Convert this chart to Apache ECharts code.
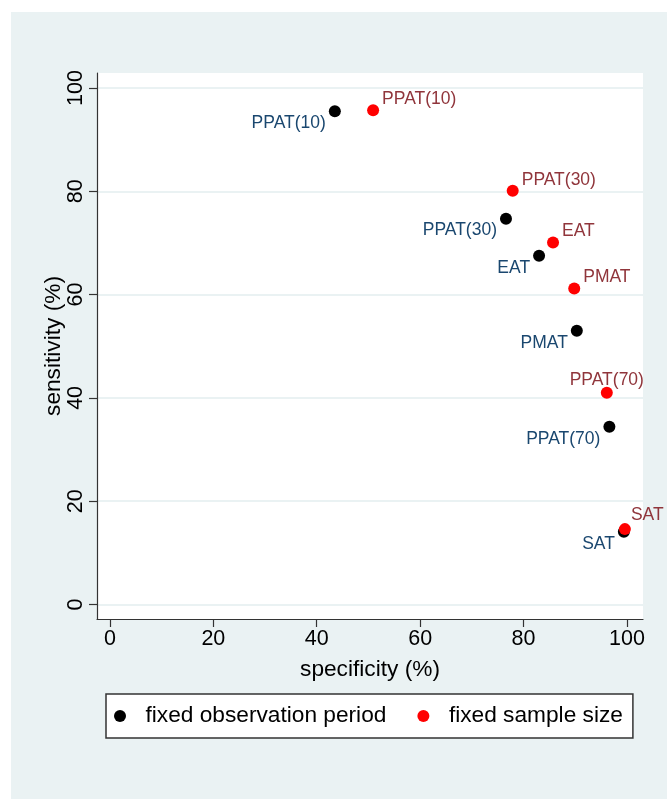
<!DOCTYPE html>
<html>
<head>
<meta charset="utf-8">
<script src="https://cdn.jsdelivr.net/npm/echarts@6/dist/echarts.min.js"></script>
<style>
  html, body { margin: 0; padding: 0; background: #fff; }
  #chart { width: 667px; height: 799px; }
</style>
</head>
<body>
<div id="chart"></div>
<script>
// 数据
var methods = ['PPAT(10)', 'PPAT(30)', 'EAT', 'PMAT', 'PPAT(70)', 'SAT'];
var obsSpecificity = [43.5, 76.6, 83.0, 90.3, 96.6, 99.4];
var obsSensitivity = [95.5, 74.7, 67.5, 53.0, 34.4, 14.1];
var sampleSpecificity = [50.9, 77.9, 85.7, 89.8, 96.1, 99.6];
var sampleSensitivity = [95.7, 80.1, 70.1, 61.2, 41.0, 14.6];
var tickValues = [0, 20, 40, 60, 80, 100];
var seriesNames = ['fixed observation period', 'fixed sample size'];

var font = 'Liberation Sans, Arial, Helvetica, sans-serif';
var bg = '#EAF2F3';

// 标签位置的个别调整（靠右边的点）
var sampleLabelFix = {
  'PPAT(70)': { position: 'top', distance: 0, offset: [0, 2] },
  'SAT': { position: 'right', distance: 0, offset: [0, -14] }
};

function pairs(xs, ys, fix) {
  return xs.map(function (x, i) {
    var item = { value: [x, ys[i]], name: methods[i] };
    if (fix && fix[methods[i]]) item.label = fix[methods[i]];
    return item;
  });
}

var myChart = echarts.init(document.getElementById('chart'));
var option = {
  backgroundColor: bg,
  animation: false,
  textStyle: { fontFamily: font },
  graphic: [
    // 白色外边
    { type: 'rect', shape: { x: 0, y: 0, width: 667, height: 12 }, style: { fill: '#fff' }, silent: true },
    { type: 'rect', shape: { x: 0, y: 0, width: 11, height: 799 }, style: { fill: '#fff' }, silent: true }
  ],
  grid: {
    left: 97,
    right: 24,
    top: 73,
    bottom: 180,
    show: true,
    backgroundColor: '#fff',
    borderWidth: 0
  },
  legend: {
    left: 106,
    top: 694,
    orient: 'horizontal',
    padding: [9, 10, 9, 8],
    itemGap: 31,
    itemWidth: 41,
    itemHeight: 12,
    icon: 'circle',
    backgroundColor: '#fff',
    borderColor: '#333',
    borderWidth: 1.5,
    borderRadius: 0,
    textStyle: {
      fontFamily: font,
      fontSize: 22.7,
      color: '#000',
      lineHeight: 26
    },
    data: seriesNames
  },
  xAxis: {
    type: 'value',
    min: -2.5,
    max: 103.1,
    name: 'specificity (%)',
    nameLocation: 'middle',
    nameGap: 39,
    nameMoveOverlap: false,
    nameTextStyle: { fontSize: 22.7, color: '#000', fontFamily: font },
    axisLine: { show: true, onZero: false, lineStyle: { color: '#333', width: 1.2 } },
    axisTick: { show: true, length: 8, customValues: tickValues, lineStyle: { color: '#333', width: 1.2 } },
    axisLabel: { customValues: tickValues, fontSize: 21.5, color: '#000', margin: 9, fontFamily: font },
    splitLine: { show: false }
  },
  yAxis: {
    type: 'value',
    min: -2.8,
    max: 102.9,
    name: 'sensitivity (%)',
    nameLocation: 'middle',
    nameRotate: 90,
    nameGap: 32,
    nameMoveOverlap: false,
    nameTextStyle: { fontSize: 22.7, color: '#000', fontFamily: font },
    axisLine: { show: true, onZero: false, lineStyle: { color: '#333', width: 1.2 } },
    axisTick: { show: true, length: 8, customValues: tickValues, lineStyle: { color: '#333', width: 1.2 } },
    axisLabel: { customValues: tickValues, rotate: 90, fontSize: 21.5, color: '#000', margin: 10, fontFamily: font },
    splitLine: { show: true, lineStyle: { color: bg, width: 2 } }
  },
  series: [
    {
      name: seriesNames[0],
      type: 'scatter',
      symbol: 'circle',
      symbolSize: 12,
      itemStyle: { color: '#000', opacity: 1 },
      data: pairs(obsSpecificity, obsSensitivity),
      label: {
        show: true,
        position: 'left',
        distance: 3,
        offset: [0, 12],
        formatter: '{b}',
        fontSize: 17.5,
        color: '#1a476f',
        fontFamily: font
      },
      z: 3
    },
    {
      name: seriesNames[1],
      type: 'scatter',
      symbol: 'circle',
      symbolSize: 12,
      itemStyle: { color: '#ff0000', opacity: 1 },
      data: pairs(sampleSpecificity, sampleSensitivity, sampleLabelFix),
      label: {
        show: true,
        position: 'right',
        distance: 3,
        offset: [0, -11],
        formatter: '{b}',
        fontSize: 17.5,
        color: '#90353b',
        fontFamily: font
      },
      z: 4
    }
  ]
};
myChart.setOption(option);
</script>
</body>
</html>
